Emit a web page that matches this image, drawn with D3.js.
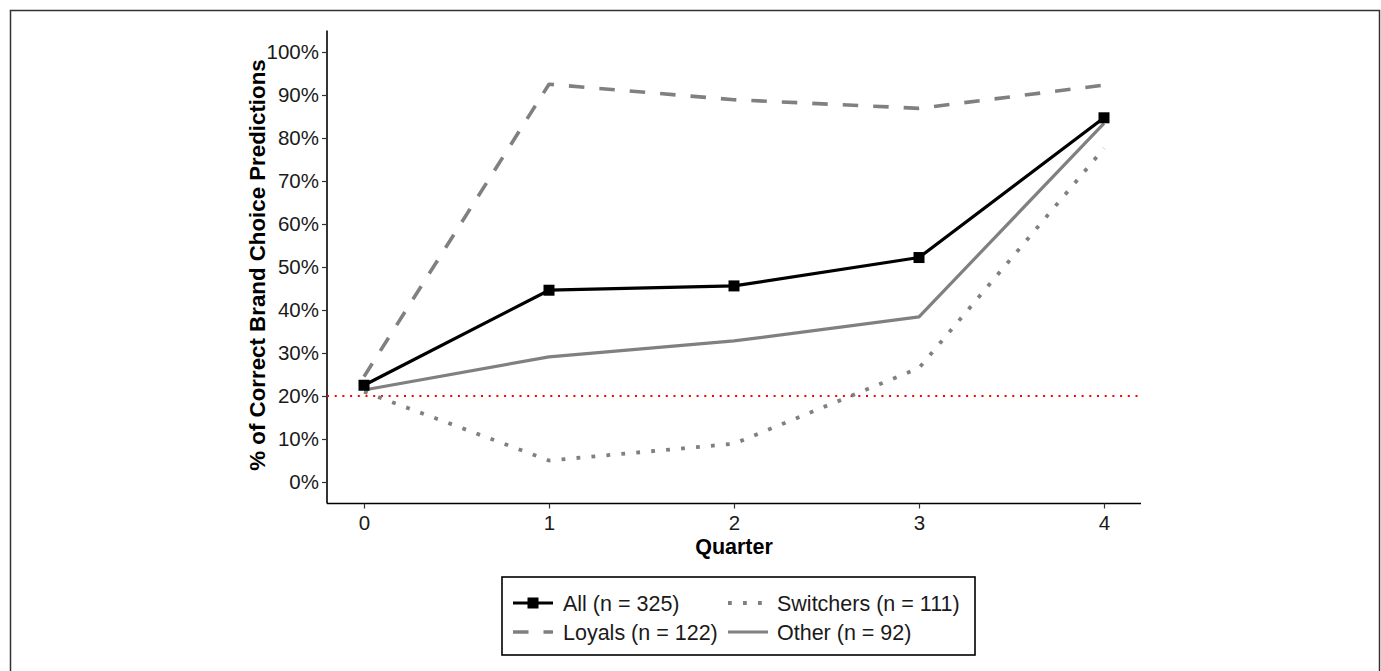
<!DOCTYPE html>
<html>
<head>
<meta charset="utf-8">
<script src="https://cdn.jsdelivr.net/npm/d3@7"></script>
<style>
  html, body { margin: 0; padding: 0; background: #fff; }
  svg { display: block; font-family: "Liberation Sans", Arial, sans-serif; }
</style>
</head>
<body>
<svg id="chart" width="1381" height="671"></svg>
<script>
// ---- data ----
const quarters = [0, 1, 2, 3, 4];
const allValues = [22.5, 44.6, 45.6, 52.2, 84.7];
const loyalsValues = [24.5, 92.5, 88.9, 86.9, 92.3];
const switchersValues = [21.0, 5.0, 8.9, 26.5, 77.6];
const otherValues = [21.4, 29.1, 32.8, 38.4, 83.4];
const yTicks = [0, 10, 20, 30, 40, 50, 60, 70, 80, 90, 100];
const chanceLevel = 20;
const seriesNames = ["All (n = 325)", "Loyals (n = 122)", "Switchers (n = 111)", "Other (n = 92)"];

const svg = d3.select("#chart");

// outer frame
svg.append("rect").attr("x", 10.5).attr("y", 10.5).attr("width", 1369).attr("height", 670)
  .attr("fill", "none").attr("stroke", "#333").attr("stroke-width", 1.5);

const pLeft = 327, pRight = 1141, pTop = 30.5, pBottom = 503.5;
const x = d3.scaleLinear().domain([-0.2, 4.2]).range([pLeft, pRight]);
const y = d3.scaleLinear().domain([-5, 105]).range([pBottom, pTop]);

// axes
const yAxis = d3.axisLeft(y).tickValues(yTicks).tickFormat(d => d + "%").tickSize(5).tickPadding(3);
const xAxis = d3.axisBottom(x).tickValues(quarters).tickFormat(d3.format("d")).tickSize(5).tickPadding(7);

const gy = svg.append("g").attr("transform", `translate(${pLeft},0)`).call(yAxis);
const gx = svg.append("g").attr("transform", `translate(0,${pBottom})`).call(xAxis);
[gx, gy].forEach(g => {
  g.select(".domain").attr("stroke", "#000").attr("stroke-width", 1.6);
  g.selectAll(".tick line").attr("stroke", "#333").attr("stroke-width", 1.2);
  g.selectAll(".tick text").attr("fill", "#1a1a1a").style("font-size", "20.5px")
    .style("font-family", "'Liberation Sans', Arial, sans-serif");
});
gy.select(".domain").attr("d", `M0,${pTop}V${pBottom}`);
gx.select(".domain").attr("d", `M${pLeft},0H${pRight}`);

// axis titles
svg.append("text").attr("x", (pLeft + pRight) / 2).attr("y", 554)
  .attr("text-anchor", "middle").style("font-size", "21.5px").style("font-weight", "bold")
  .text("Quarter");
svg.append("text").attr("transform", `translate(265,${(pTop + pBottom) / 2 - 2}) rotate(-90)`)
  .attr("text-anchor", "middle").style("font-size", "22.3px").style("font-weight", "bold")
  .text("% of Correct Brand Choice Predictions");

// chance line
svg.append("line").attr("x1", pLeft).attr("x2", pRight).attr("y1", y(chanceLevel)).attr("y2", y(chanceLevel))
  .attr("stroke", "#ff0000").attr("stroke-width", 2).attr("stroke-dasharray", "2,5.7");

const line = d3.line().x((d, i) => x(quarters[i])).y(d => y(d));

const styles = [
  { values: allValues, color: "#000", width: 3.2, dash: null, markers: true },
  { values: loyalsValues, color: "#808080", width: 3.6, dash: "15.5,15", markers: false },
  { values: switchersValues, color: "#808080", width: 3.8, dash: "3.8,11.2", markers: false },
  { values: otherValues, color: "#808080", width: 3.2, dash: null, markers: false }
];

// draw order: others first, All on top
[1, 2, 3, 0].forEach(k => {
  const s = styles[k];
  svg.append("path").datum(s.values).attr("d", line).attr("fill", "none")
    .attr("stroke", s.color).attr("stroke-width", s.width)
    .attr("stroke-dasharray", s.dash).attr("stroke-linejoin", "round");
  if (s.markers) {
    svg.selectAll(null).data(s.values).enter().append("rect")
      .attr("x", (d, i) => x(quarters[i]) - 5.5).attr("y", d => y(d) - 5.5)
      .attr("width", 11).attr("height", 11).attr("fill", "#000");
  }
});

// legend
const lg = svg.append("g");
lg.append("rect").attr("x", 502).attr("y", 577).attr("width", 473).attr("height", 78)
  .attr("fill", "#fff").attr("stroke", "#000").attr("stroke-width", 1.6);
const legendPos = [
  { kx: 513, ty: 603, tx: 563 },
  { kx: 513, ty: 632, tx: 563 },
  { kx: 728, ty: 603, tx: 777 },
  { kx: 728, ty: 632, tx: 777 }
];
styles.forEach((s, k) => {
  const p = legendPos[k];
  lg.append("line").attr("x1", p.kx).attr("x2", p.kx + 40).attr("y1", p.ty).attr("y2", p.ty)
    .attr("stroke", s.color).attr("stroke-width", s.width).attr("stroke-dasharray", s.dash);
  if (s.markers) {
    lg.append("rect").attr("x", p.kx + 20 - 5.5).attr("y", p.ty - 5.5).attr("width", 11).attr("height", 11).attr("fill", "#000");
  }
  lg.append("text").attr("x", p.tx).attr("y", p.ty + 7.5).style("font-size", "21.5px").attr("fill", "#1a1a1a")
    .text(seriesNames[k]);
});
</script>
</body>
</html>
